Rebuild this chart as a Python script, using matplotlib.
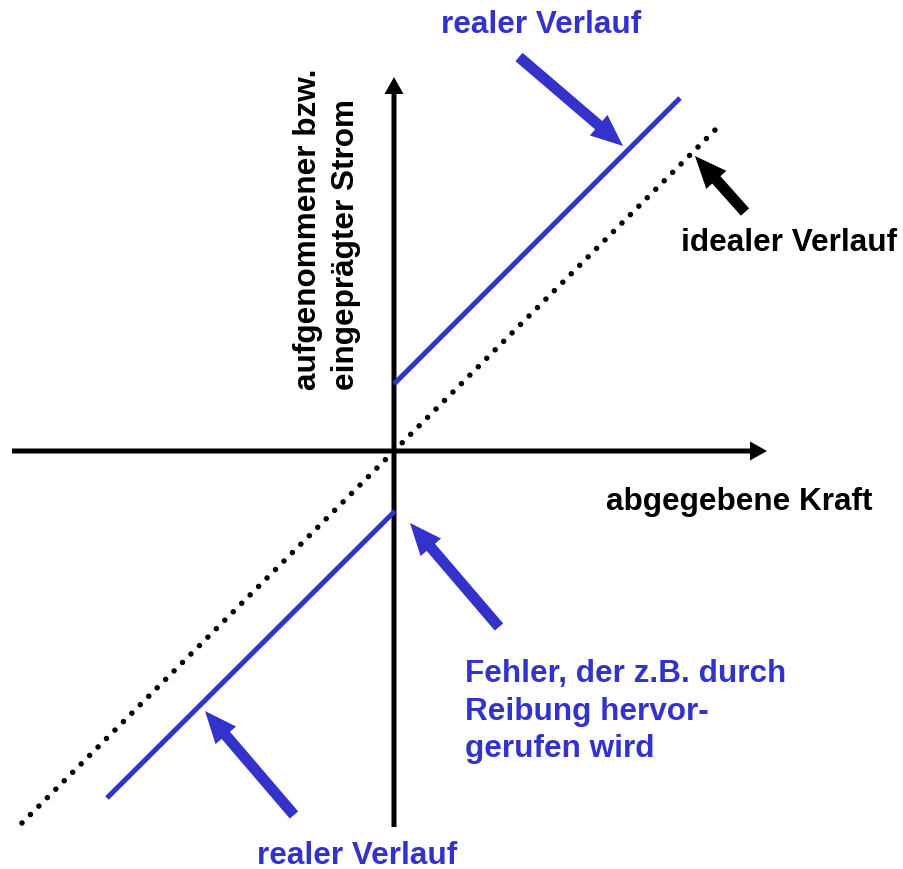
"""
sketch: current vs. force characteristic, ideal and real course with friction offset
"""
import matplotlib.pyplot as plt
from matplotlib.patches import FancyArrow

BLUE = "#3333cc"

# diagram coordinates, origin where the two axes cross (1 unit ~ 1 px)
x_axis = [-382, 373]
y_axis = [-376, 374]

ideal_x = [-372, 325]
ideal_y = [-372, 325]

real_upper_x = [0, 286]
real_upper_y = [67, 353]
real_lower_x = [-287, 1]
real_lower_y = [-347, -60]

# pointer arrows: (tail x, tail y, tip x, tip y)
arrow_real_top = (125, 394, 229, 305)
arrow_ideal = (351, 239, 301, 295)
arrow_error = (105, -176, 16, -72)
arrow_real_bottom = (-100, -364, -189, -260)

label_real = "realer Verlauf"
label_ideal = "idealer Verlauf"
label_force = "abgegebene Kraft"
label_current = "aufgenommener bzw.\neingeprägter Strom"
label_error = "Fehler, der z.B. durch\nReibung hervor-\ngerufen wird"


def pointer(ax, arrow, color):
    x0, y0, x1, y1 = arrow
    ax.add_patch(FancyArrow(x0, y0, x1 - x0, y1 - y0, width=11, head_width=27,
                            head_length=32, length_includes_head=True,
                            color=color, lw=0))


def main():
    plt.rcParams['font.family'] = ['Liberation Sans', 'DejaVu Sans']
    fig = plt.figure(figsize=(9.04, 8.7), dpi=100)
    ax = fig.add_axes([0, 0, 1, 1])
    ax.set_xlim(-394, 510)
    ax.set_ylim(-418, 452)
    ax.axis('off')

    # axes with arrow heads
    ax.add_patch(FancyArrow(x_axis[0], 0, x_axis[1] - x_axis[0], 0, width=5,
                            head_width=19, head_length=17,
                            length_includes_head=True, color='black', lw=0))
    ax.add_patch(FancyArrow(0, y_axis[0], 0, y_axis[1] - y_axis[0], width=5,
                            head_width=19, head_length=17,
                            length_includes_head=True, color='black', lw=0))

    # ideal (dotted) and real (blue) characteristic
    ax.plot(ideal_x, ideal_y, color='black', linewidth=4,
            dashes=(0.001, 2.15), dash_capstyle='round')
    ax.plot(real_upper_x, real_upper_y, color=BLUE, linewidth=3.6, solid_capstyle='butt')
    ax.plot(real_lower_x, real_lower_y, color=BLUE, linewidth=3.6, solid_capstyle='butt')

    pointer(ax, arrow_real_top, BLUE)
    pointer(ax, arrow_ideal, 'black')
    pointer(ax, arrow_error, BLUE)
    pointer(ax, arrow_real_bottom, BLUE)

    fs = 22.7
    ax.text(147, 427, label_real, color=BLUE, fontsize=fs, fontweight='bold',
            ha='center', va='center')
    ax.text(-37, -412, label_real, color=BLUE, fontsize=fs, fontweight='bold',
            ha='center', va='baseline')
    ax.text(395, 209, label_ideal, color='black', fontsize=fs, fontweight='bold',
            ha='center', va='center')
    ax.text(345, -50, label_force, color='black', fontsize=fs, fontweight='bold',
            ha='center', va='center')
    ax.text(71, -207, label_error, color=BLUE, fontsize=fs, fontweight='bold',
            ha='left', va='top', linespacing=1.33)
    ax.text(-67, 223, label_current, color='black', fontsize=fs, fontweight='bold',
            ha='center', va='center', rotation=90, multialignment='left',
            linespacing=1.31)

    fig.savefig("out.png", dpi=100)


if __name__ == "__main__":
    main()
